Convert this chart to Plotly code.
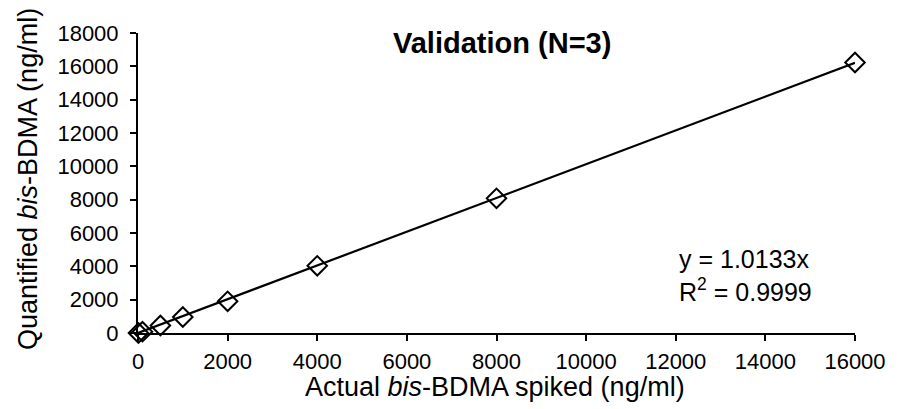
import plotly.graph_objects as go

actual = [10, 100, 500, 1000, 2000, 4000, 8000, 16000]
quantified = [0, 80, 450, 960, 1900, 4030, 8080, 16230]
fit_x = [0, 16000]
slope = 1.0133
fit_y = [slope * v for v in fit_x]
x_ticks = list(range(0, 16001, 2000))
y_ticks = list(range(0, 18001, 2000))

FONT = "Liberation Sans, Arial, sans-serif"

fig = go.Figure()
fig.add_trace(go.Scatter(x=fit_x, y=fit_y, mode="lines",
                         line=dict(color="black", width=2.2), cliponaxis=False,
                         showlegend=False))
fig.add_trace(go.Scatter(x=actual, y=quantified, mode="markers",
                         marker=dict(symbol="diamond-open", size=15,
                                     color="black", line=dict(width=2, color="black")),
                         cliponaxis=False, showlegend=False))

fig.update_layout(
    width=905, height=409,
    margin=dict(l=138, r=50, t=33, b=76),
    paper_bgcolor="white", plot_bgcolor="white",
    font=dict(family=FONT, size=22, color="black"),
    showlegend=False,
)
fig.update_xaxes(range=[0, 16000], tickvals=x_ticks, ticktext=[str(v) for v in x_ticks],
                 ticks="outside", ticklen=6, ticklabelstandoff=2,
                 tickwidth=1.5, tickcolor="black", showline=True, linecolor="black",
                 linewidth=2, showgrid=False, zeroline=False,
                 tickfont=dict(size=22))
fig.update_yaxes(range=[0, 18000], tickvals=y_ticks, ticktext=[str(v) for v in y_ticks],
                 ticks="outside", ticklen=6, ticklabelstandoff=7,
                 tickwidth=1.5, tickcolor="black", showline=True, linecolor="black",
                 linewidth=2, showgrid=False, zeroline=False,
                 tickfont=dict(size=22))

fig.add_annotation(text="<b>Validation (N=3)</b>", xref="paper", yref="paper",
                   x=(502 - 138) / 717, y=1 - (43 - 33) / 300, xanchor="center",
                   yanchor="middle", showarrow=False, font=dict(size=29))
fig.add_annotation(text="Actual <i>bis</i>-BDMA spiked (ng/ml)", xref="paper",
                   yref="paper", x=(495 - 138) / 717, y=-(387 - 333) / 300,
                   xanchor="center", yanchor="middle", showarrow=False,
                   font=dict(size=27))
fig.add_annotation(text="Quantified <i>bis</i>-BDMA (ng/ml)", xref="paper",
                   yref="paper", x=-(138 - 28) / 717, y=(333 - 179) / 300,
                   xanchor="center", yanchor="middle", textangle=-90,
                   showarrow=False, font=dict(size=27))
fig.add_annotation(text="y = 1.0133x<br>R<sup>2</sup> = 0.9999", xref="paper",
                   yref="paper", x=(677 - 138) / 717, y=(333 - 275) / 300,
                   xanchor="left", yanchor="middle", align="left",
                   showarrow=False, font=dict(size=25))

fig.write_html("out.html")
